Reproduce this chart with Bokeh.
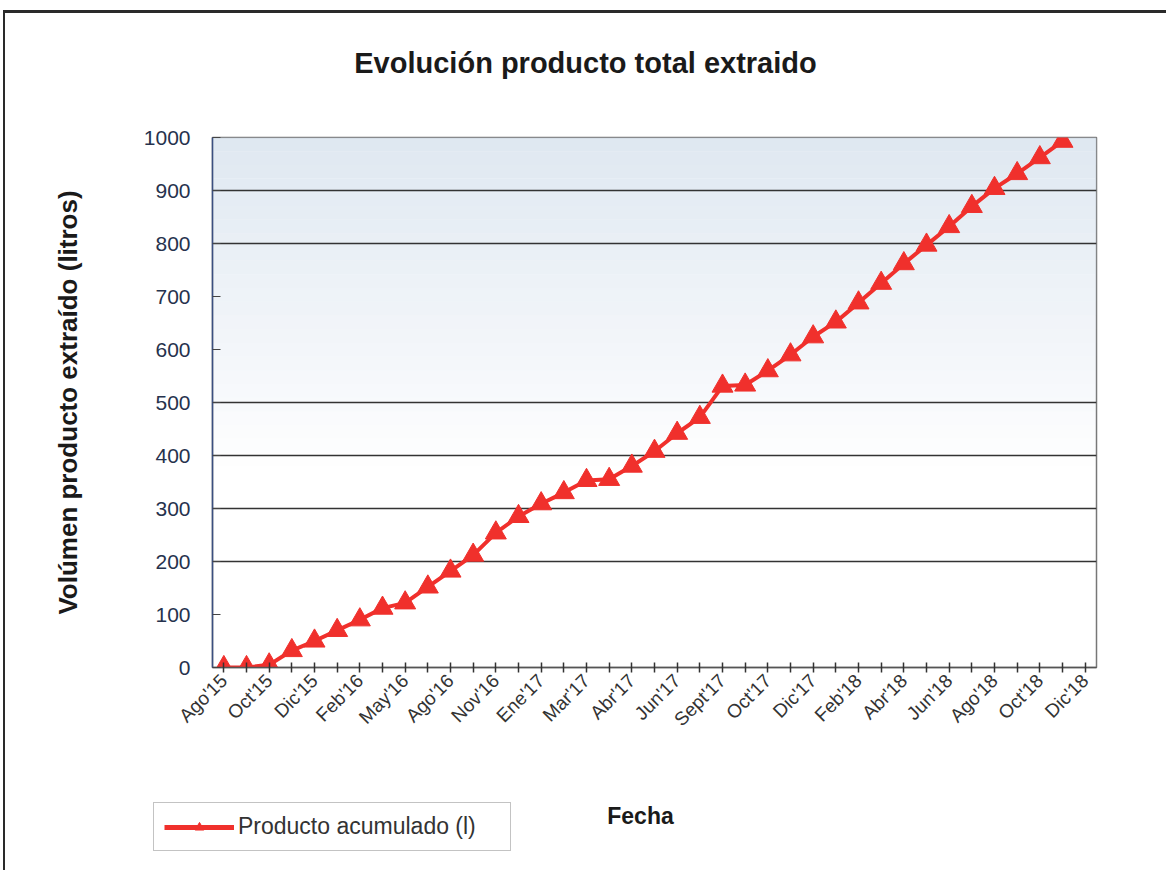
from bokeh.plotting import figure
from bokeh.models import (FixedTicker, BoxAnnotation, Legend, LegendItem, ColumnDataSource,
                          Label, Div)
from bokeh.layouts import column, row
from bokeh.embed import file_html
from bokeh.resources import INLINE

# ---- data ----
title_text = "Evolución producto total extraido"
tick_labels = ["Ago'15", "Oct'15", "Dic'15", "Feb'16", "May'16", "Ago'16", "Nov'16",
               "Ene'17", "Mar'17", "Abr'17", "Jun'17", "Sept'17", "Oct'17", "Dic'17",
               "Feb'18", "Abr'18", "Jun'18", "Ago'18", "Oct'18", "Dic'18"]
n_categories = 39
producto = [0, 0, 5, 32, 50, 70, 90, 112, 122, 152, 182, 212, 254, 285, 309, 330,
            353, 355, 380, 408, 442, 472, 531, 533, 560, 590, 624, 652, 688, 725,
            762, 797, 832, 870, 904, 932, 962, 993]
y_ticks = [0, 100, 200, 300, 400, 500, 600, 700, 800, 900, 1000]
grid_lines = [200, 300, 400, 500, 800, 900]

idx = list(range(len(producto)))
src = ColumnDataSource(dict(x=idx, y=producto))

W = 1161
RED = "#f0302c"
FONT = "Liberation Sans"

# ---- title block ----
title_div = Div(text=title_text, width=W, height=104, margin=0,
                styles={"font-family": "'Liberation Sans', Arial, sans-serif",
                        "font-size": "29px", "font-weight": "bold", "color": "#1a1a1a",
                        "text-align": "center", "line-height": "100px",
                        "background-color": "white"})

# ---- main plot ----
PH = 673
p = figure(width=W, height=PH, output_backend="svg", toolbar_location=None,
           x_range=(-0.5, n_categories - 0.5), y_range=(0, 1000),
           min_border_left=207, min_border_right=70, min_border_top=20,
           min_border_bottom=123)
p.margin = 0
p.background_fill_color = "white"
p.border_fill_color = "white"
p.outline_line_color = "#777777"
p.outline_line_width = 1.5

steps = 24
for i in range(steps):
    lo = 380 + i * (620 / steps)
    hi = lo + 620 / steps
    p.add_layout(BoxAnnotation(bottom=lo, top=hi, fill_color="#d3dfec",
                               fill_alpha=0.72 * (i + 1) / steps, line_alpha=0,
                               level="image"))

ya = p.yaxis[0]
ya.ticker = FixedTicker(ticks=y_ticks)
ya.axis_label = "Volúmen producto extraído (litros)"
ya.axis_label_text_font = FONT
ya.axis_label_text_font_size = "26px"
ya.axis_label_text_font_style = "bold"
ya.axis_label_text_color = "#1a1a1a"
ya.axis_label_standoff = 58
ya.major_label_text_font = FONT
ya.major_label_text_font_size = "21px"
ya.major_label_text_color = "#26324d"
ya.major_label_standoff = 22
ya.major_tick_in = 8
ya.major_tick_out = 0
ya.minor_tick_line_color = None
ya.axis_line_color = "#3b4f80"
ya.axis_line_width = 1.5
ya.major_tick_line_color = "#444444"

xa = p.xaxis[0]
xa.ticker = FixedTicker(ticks=list(range(n_categories)))
overrides = {}
for i in range(n_categories):
    overrides[i] = tick_labels[i // 2] if i % 2 == 0 else ""
xa.major_label_overrides = overrides
xa.major_label_orientation = 0.785398
xa.major_label_text_font = FONT
xa.major_label_text_font_size = "19px"
xa.major_label_text_color = "#333333"
xa.major_label_standoff = 5
xa.major_tick_in = 5
xa.major_tick_out = 5
xa.major_tick_line_color = "#333333"
xa.major_tick_line_width = 1.5
xa.minor_tick_line_color = None
xa.axis_line_color = "#555555"
xa.axis_line_width = 1.5

p.xgrid.visible = False
p.ygrid.ticker = FixedTicker(ticks=grid_lines)
p.ygrid.grid_line_color = "#333333"
p.ygrid.grid_line_width = 1.6

p.line("x", "y", source=src, line_color=RED, line_width=4)
p.scatter("x", "y", source=src, marker="triangle", size=21,
          fill_color=RED, line_color=RED)

# ---- bottom strip: legend + x-axis title ----
q = figure(width=W, height=80, output_backend="svg", toolbar_location=None,
           x_range=(-100, -99), y_range=(-100, -99),
           x_axis_location=None, y_axis_location=None,
           min_border_left=0, min_border_right=0, min_border_top=0, min_border_bottom=0)
q.margin = 0
q.outline_line_color = None
q.grid.visible = False
q.background_fill_color = "white"
q.border_fill_color = "white"
ln = q.line("x", "y", source=src, line_color=RED, line_width=5)
mk = q.scatter("x", "y", source=src, marker="triangle", size=18,
               fill_color=RED, line_color=RED)

legend = Legend(items=[LegendItem(label="Producto acumulado (l)", renderers=[ln, mk])],
                location=(148, 19), orientation="horizontal")
legend.label_text_font = FONT
legend.label_text_font_size = "23px"
legend.label_text_color = "#333333"
legend.border_line_color = "#888888"
legend.border_line_width = 1.5
legend.background_fill_color = "white"
legend.glyph_width = 70
legend.glyph_height = 22
legend.label_width = 262
legend.label_standoff = 4
legend.padding = 10
legend.margin = 0
q.add_layout(legend, "center")

q.add_layout(Label(x=635, y=55, x_units="screen", y_units="screen", text="Fecha",
                   text_font=FONT, text_font_size="23px",
                   text_font_style="bold", text_color="#1a1a1a",
                   text_align="center", text_baseline="middle"))

bottom = row(q, margin=0)
layout = column(title_div, p, bottom, spacing=0)
layout.margin = (10, 0, 0, 3)
layout.styles = {"border-top": "3px solid #2a2a2a", "border-left": "2px solid #2a2a2a"}

open("out.html", "w").write(file_html(layout, INLINE))
